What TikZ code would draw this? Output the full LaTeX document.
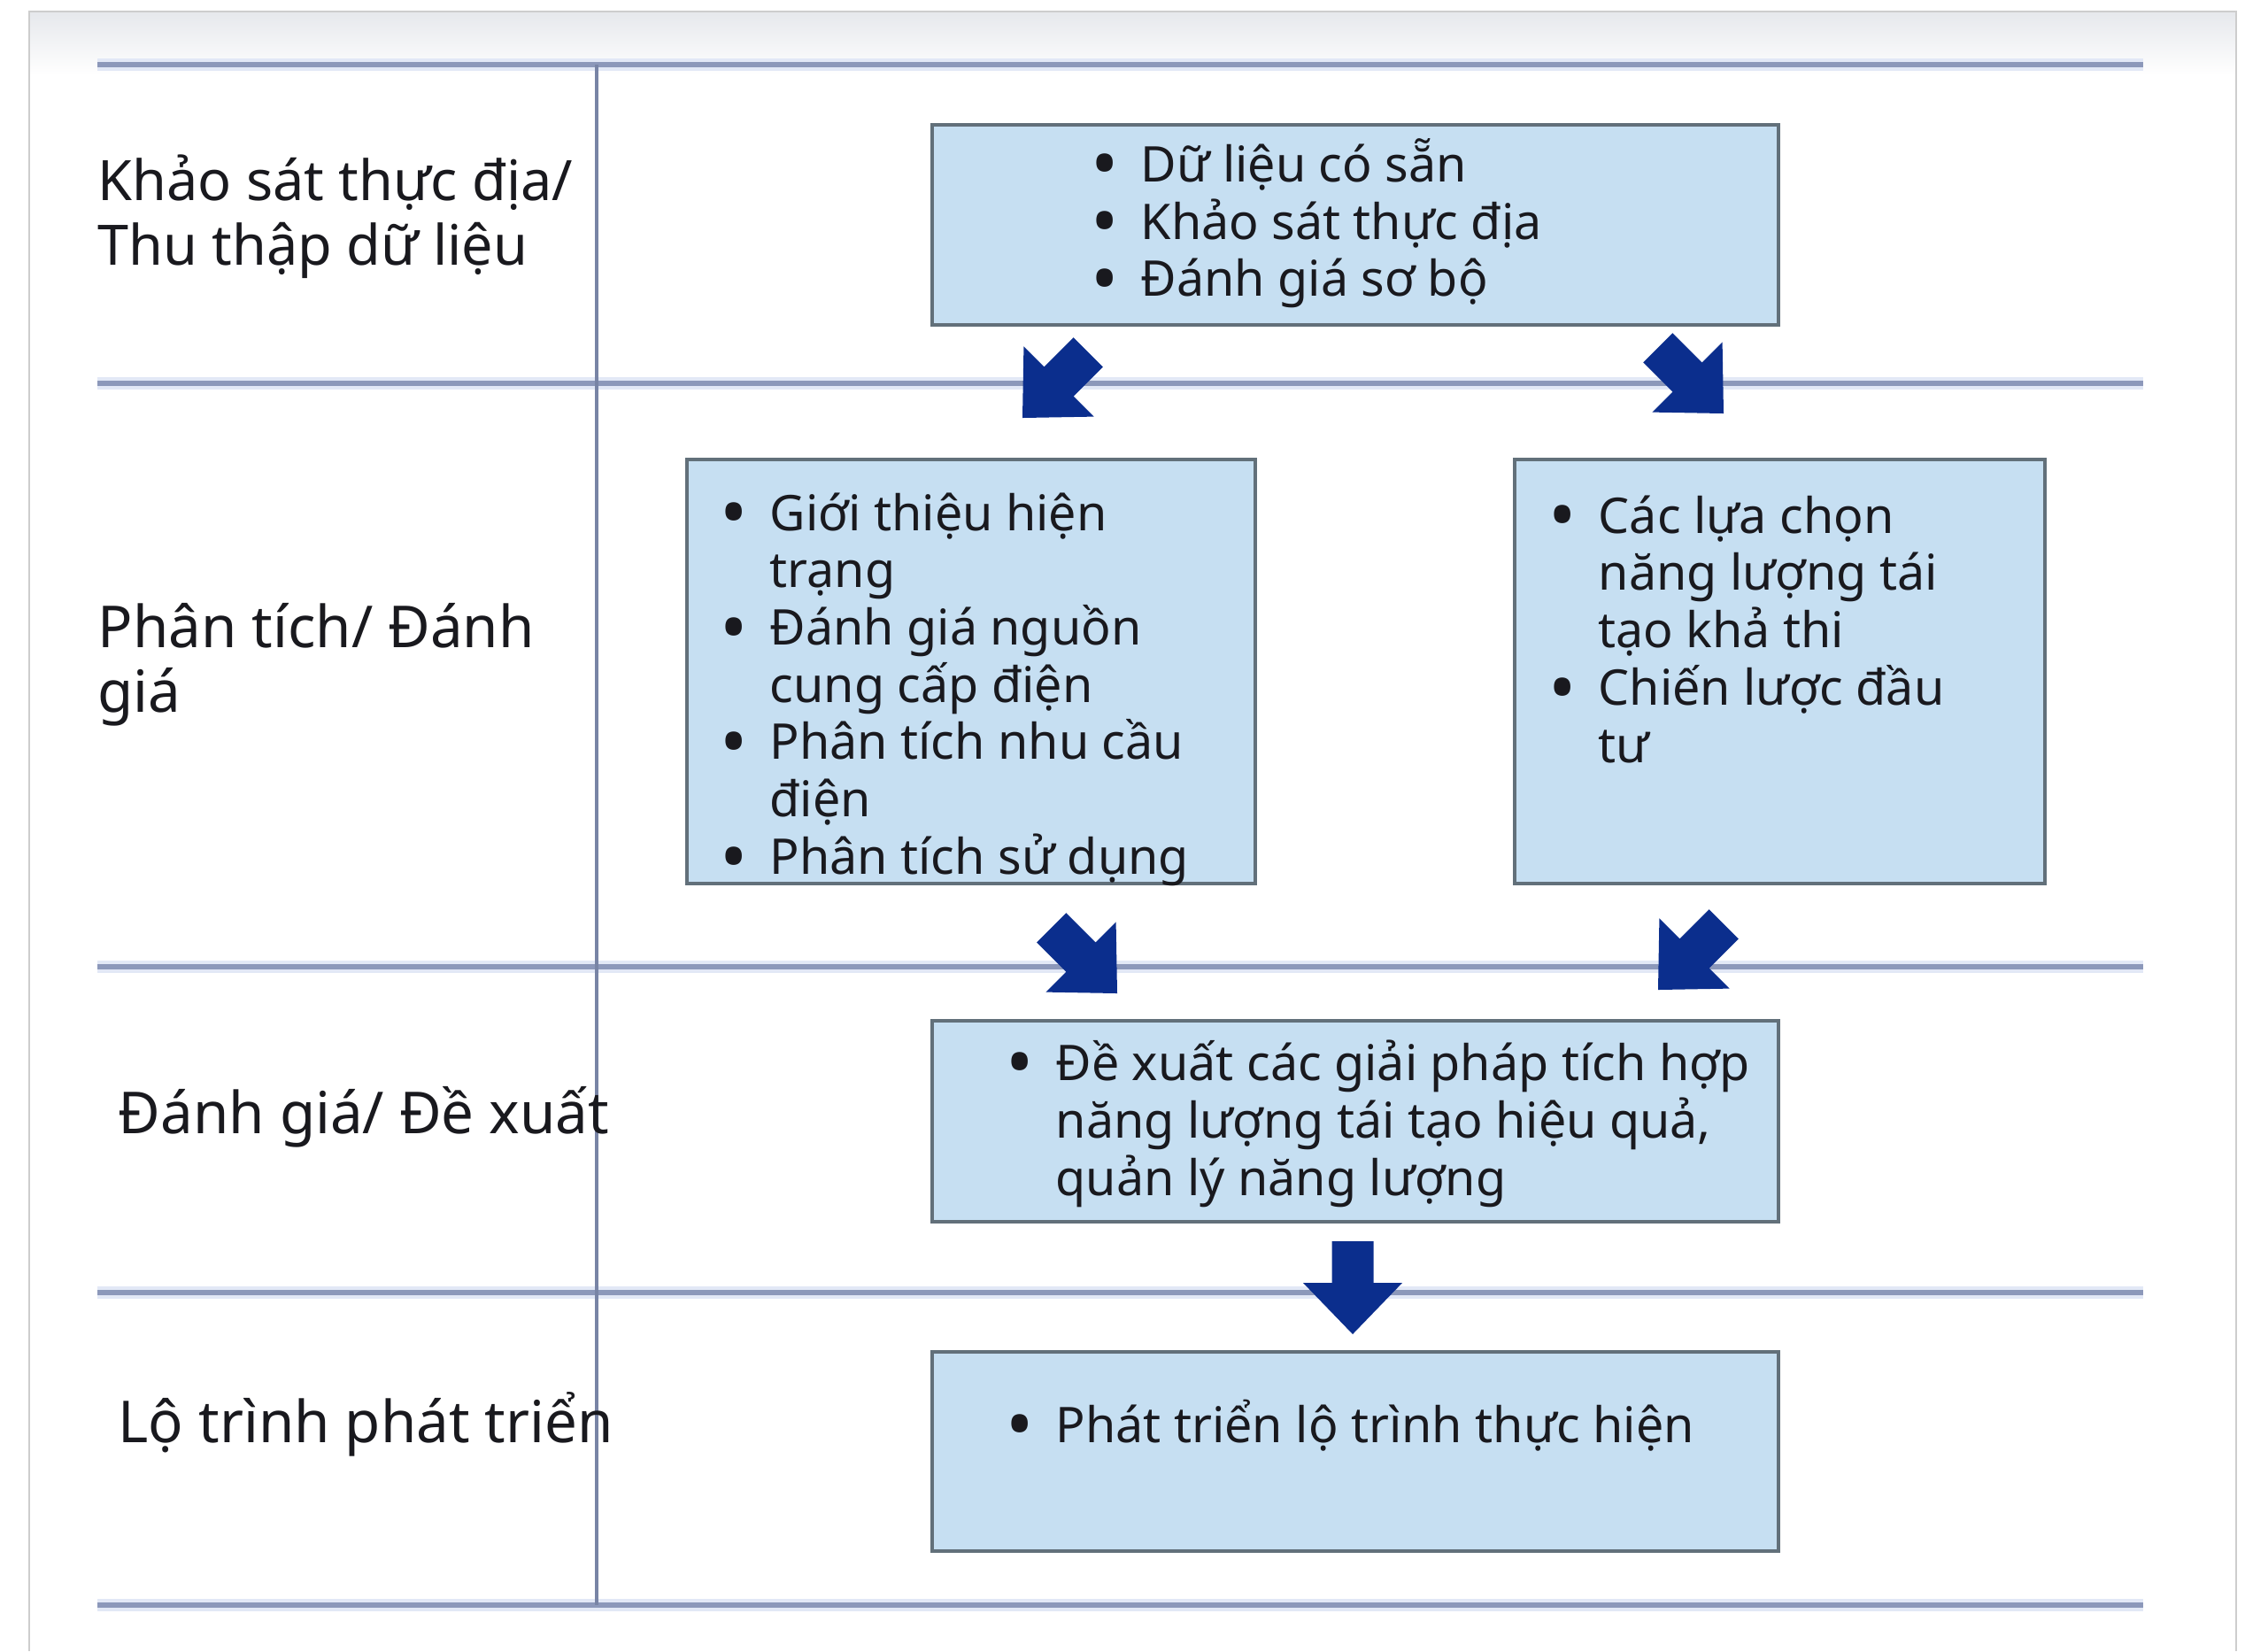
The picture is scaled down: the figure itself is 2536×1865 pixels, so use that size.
\documentclass[tikz,border=0pt]{standalone}
\usepackage{graphicx}
\usepackage{fontspec}
\setmainfont{Noto Sans}
\definecolor{arrowblue}{RGB}{11,46,141}
\definecolor{boxfill}{RGB}{198,223,242}
\definecolor{boxborder}{RGB}{98,112,122}
\definecolor{lineblue}{RGB}{140,152,186}
\definecolor{lineglow}{RGB}{226,232,246}
\definecolor{vlinecol}{RGB}{120,132,165}
\definecolor{framegray}{RGB}{205,205,205}
\definecolor{topgray}{RGB}{230,232,236}
\definecolor{textcol}{RGB}{25,25,30}
\newcommand\lblfont{\fontsize{18.6pt}{20.8pt}\selectfont}
\newcommand\lblfonta{\fontsize{17.9pt}{20.8pt}\selectfont}
\newcommand\boxfont{\fontsize{15.8pt}{18.4pt}\selectfont}
\newcommand\bul{\makebox[14.5pt][l]{\hspace{2.9pt}\makebox[0pt][c]{\raisebox{-2.8pt}[0pt][0pt]{\scalebox{1.5}{•}}}}}
\newcommand\blkarrow[3]{\fill[arrowblue, shift={(#1,#2)}, rotate=#3] (0,0) -- (-56,-58) -- (-23.5,-58) -- (-23.5,-105) -- (23.5,-105) -- (23.5,-58) -- (56,-58) -- cycle;}
\begin{document}
\begin{tikzpicture}[x=0.01cm,y=-0.01cm,
  hline/.style={line width=1.7pt, draw=lineblue},
  hglow/.style={line width=4pt, draw=lineglow},
  vline/.style={line width=0.9pt, draw=vlinecol},
  box/.style={draw=boxborder, fill=boxfill, line width=1.1pt, inner sep=0pt, outer sep=0pt},
  btxt/.style={anchor=base west, inner sep=0pt, font=\boxfont, text=textcol},
  ltxt/.style={anchor=base west, inner sep=0pt, font=\lblfont, text=textcol}]
\useasboundingbox (0,0) rectangle (2536,1865);
\fill[white] (0,0) rectangle (2536,1865);
\shade[top color=topgray, bottom color=white] (33,13) rectangle (2526,85);
\draw[framegray, line width=0.8pt] (33,1865) -- (33,13) -- (2526,13) -- (2526,1865);
% grid lines
\foreach \y in {73,433,1092,1460,1813} {
  \draw[hglow] (110,\y) -- (2421,\y);
  \draw[hline] (110,\y) -- (2421,\y);
}
\draw[vline] (674,73) -- (674,1813);
% boxes
\node[box, minimum width=9.56cm, minimum height=2.26cm] (b1) at (1531,254) {};
\node[box, minimum width=6.42cm, minimum height=4.79cm] (b2) at (1097,758.5) {};
\node[box, minimum width=5.99cm, minimum height=4.79cm] (b3) at (2010.5,758.5) {};
\node[box, minimum width=9.56cm, minimum height=2.27cm] (b4) at (1531,1266.5) {};
\node[box, minimum width=9.56cm, minimum height=2.25cm] (b5) at (1531,1639.5) {};
% box texts
\node[btxt] (t1) at (1237,205) {\begin{tabular}[t]{@{}l@{}l@{}}\bul & Dữ liệu có sẵn\\ \bul & Khảo sát thực địa\\ \bul & Đánh giá sơ bộ\end{tabular}};
\node[btxt] (t2) at (818,599) {\begin{tabular}[t]{@{}l@{}l@{}}\bul & Giới thiệu hiện\\ & trạng\\ \bul & Đánh giá nguồn\\ & cung cấp điện\\ \bul & Phân tích nhu cầu\\ & điện\\ \bul & Phân tích sử dụng\end{tabular}};
\node[btxt] (t3) at (1754,602) {\begin{tabular}[t]{@{}l@{}l@{}}\bul & Các lựa chọn\\ & năng lượng tái\\ & tạo khả thi\\ \bul & Chiến lược đầu\\ & tư\end{tabular}};
\node[btxt] (t4) at (1141,1220) {\begin{tabular}[t]{@{}l@{}l@{}}\bul & Đề xuất các giải pháp tích hợp\\ & năng lượng tái tạo hiệu quả,\\ & quản lý năng lượng\end{tabular}};
\node[btxt] (t5) at (1141,1629) {\begin{tabular}[t]{@{}l@{}l@{}}\bul & Phát triển lộ trình thực hiện\end{tabular}};
% row labels
\node[ltxt, font=\lblfonta] (l1) at (110,226) {\begin{tabular}[t]{@{}l@{}}Khảo sát thực địa/\\ Thu thập dữ liệu\end{tabular}};
\node[ltxt] (l2) at (110,731) {\begin{tabular}[t]{@{}l@{}}Phân tích/ Đánh\\ giá\end{tabular}};
\node[ltxt] (l3) at (133,1280) {Đánh giá/ Đề xuất};
\node[ltxt] (l4) at (133,1629) {Lộ trình phát triển};
% block arrows
\blkarrow{1155}{472}{-45}
\blkarrow{1947}{467}{45}
\blkarrow{1262}{1122}{45}
\blkarrow{1873}{1118}{-45}
\blkarrow{1528}{1507}{0}
\end{tikzpicture}
\end{document}
